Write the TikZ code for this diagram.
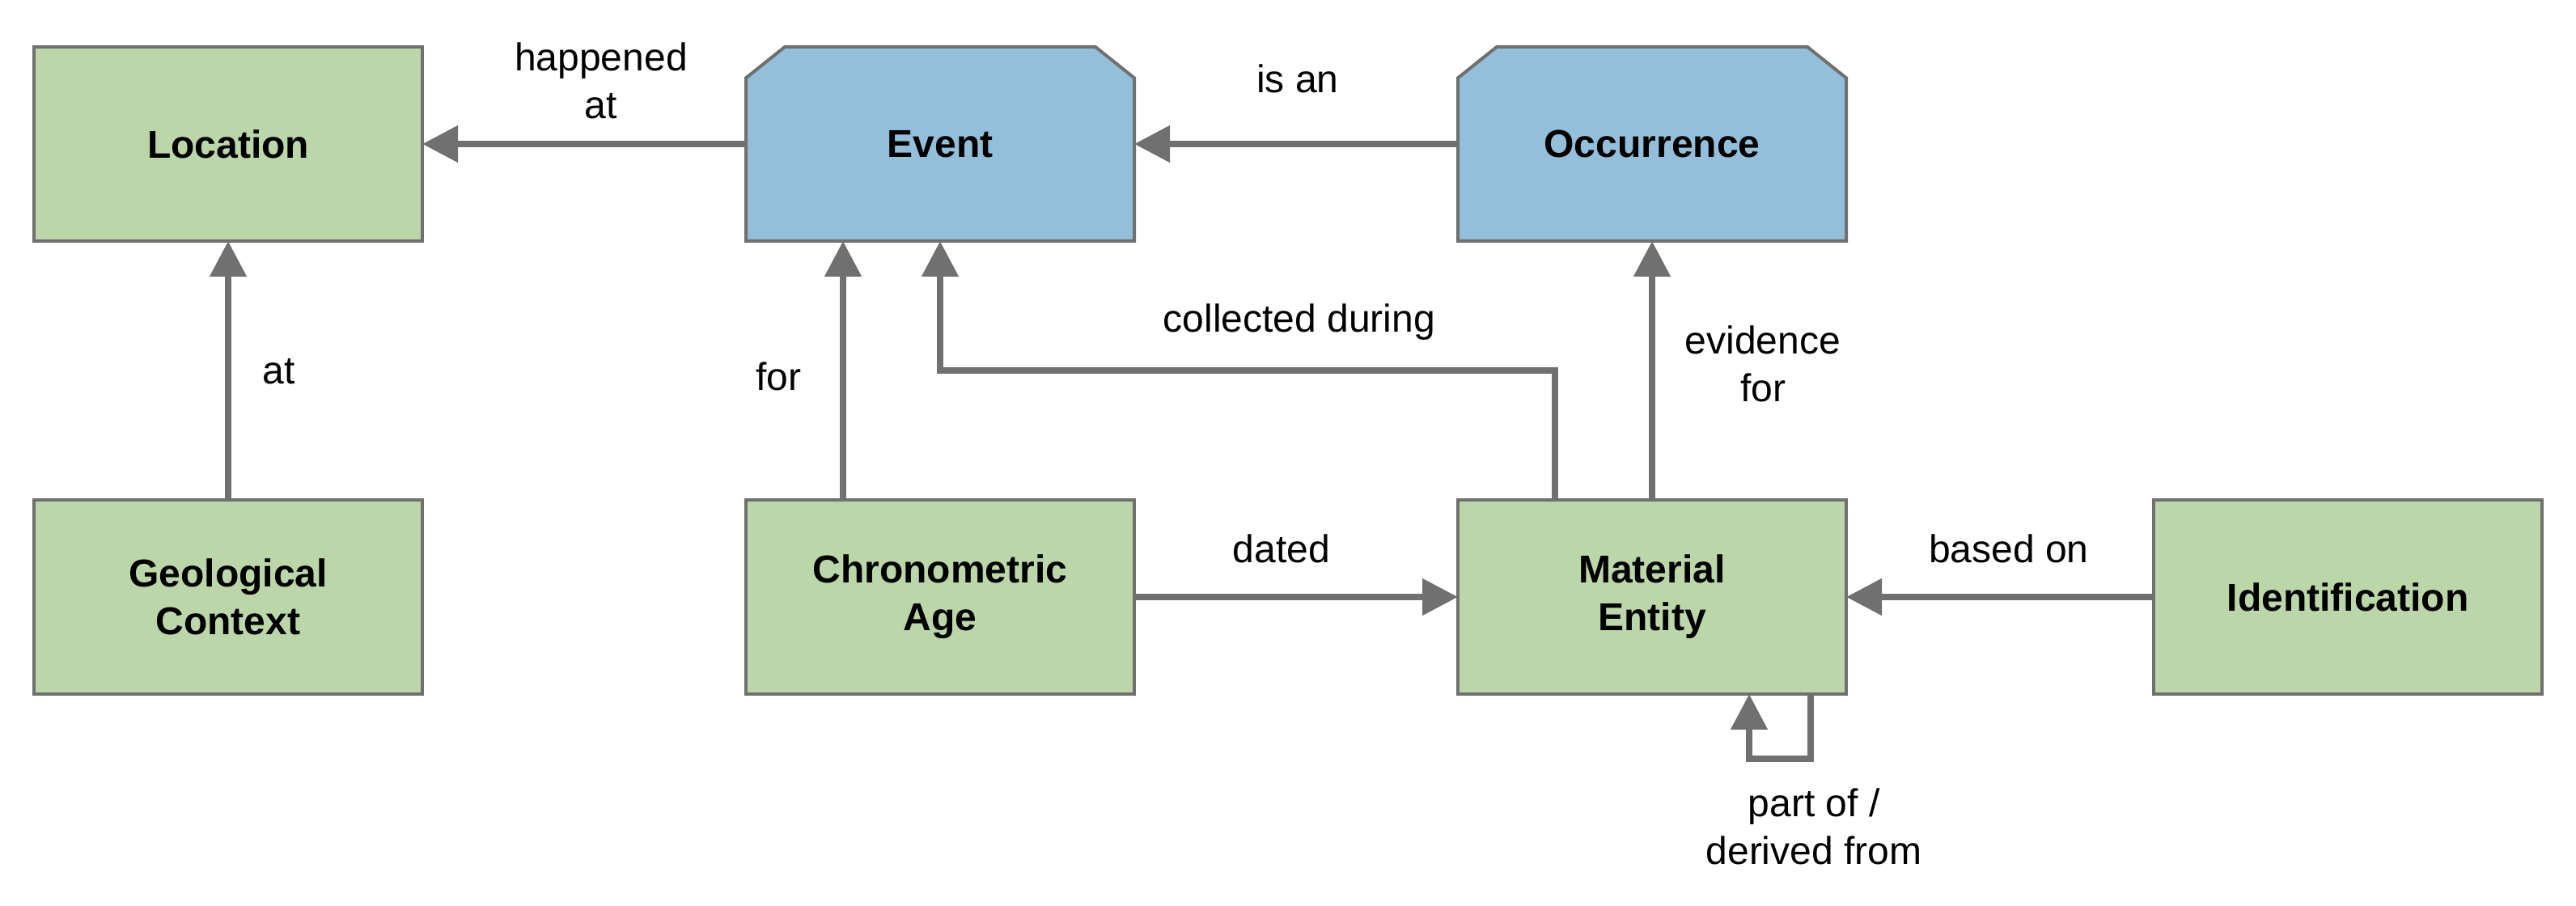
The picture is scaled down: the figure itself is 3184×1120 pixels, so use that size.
\documentclass[tikz,border=0pt]{standalone}
\usepackage{fontspec}
\setmainfont{Liberation Sans}
\usetikzlibrary{arrows.meta,calc}
\definecolor{boxgreen}{RGB}{187,215,170}
\definecolor{boxblue}{RGB}{148,191,218}
\definecolor{edgegray}{RGB}{112,112,112}
\tikzset{
  every node/.style={font=\fontsize{12}{14.75}\selectfont, align=center, outer sep=0pt},
  greenbox/.style={draw=edgegray, fill=boxgreen, line width=1pt, minimum width=120pt, minimum height=60pt, font=\fontsize{12}{14.75}\selectfont\bfseries, inner sep=0pt},
  bluebox/.style={minimum width=120pt, minimum height=60pt, font=\fontsize{12}{14.75}\selectfont\bfseries, inner sep=0pt},
  arr/.style={draw=edgegray, line width=2pt, -{Triangle[length=11pt,width=11pt]}},
  lbl/.style={inner sep=0pt, text=black},
}
\begin{document}
\begin{tikzpicture}[x=0.25pt, y=-0.25pt]
\useasboundingbox (0,0) rectangle (3184,1120);
% nodes
\node[greenbox] (loc) at (282,178) {Location};
\node[greenbox] (geo) at (282,738) {Geological\\Context};
\node[bluebox] (event) at (1162,178) {};
\node[greenbox] (chrono) at (1162,738) {Chronometric\\Age};
\node[bluebox] (occ) at (2042,178) {};
\node[greenbox] (me) at (2042,738) {Material\\Entity};
\node[greenbox] (ident) at (2902,738) {Identification};
% chamfered shapes
\foreach \n in {event,occ}{
  \filldraw[draw=edgegray, fill=boxblue, line width=1pt, line join=miter]
    (\n.south west) -- ($(\n.north west)+(0,38.4)$) -- ($(\n.north west)+(48,0)$)
    -- ($(\n.north east)+(-48,0)$) -- ($(\n.north east)+(0,38.4)$) -- (\n.south east) -- cycle;
}
\node[bluebox] at (event) {Event};
\node[bluebox] at (occ) {Occurrence};
% connectors
\draw[arr] (event.west) -- (loc.east);
\draw[arr] (occ.west) -- (event.east);
\draw[arr] (geo.north) -- (loc.south);
\coordinate (c1) at ($(chrono.north west)!0.25!(chrono.north east)$);
\draw[arr] (c1) -- (c1 |- event.south);
\coordinate (m1) at ($(me.north west)!0.25!(me.north east)$);
\draw[arr, line join=miter] (m1) |- ($(event.south)+(0,160)$) -- (event.south);
\draw[arr] (me.north) -- (occ.south);
\draw[arr] (chrono.east) -- (me.west);
\draw[arr] (ident.west) -- (me.east);
\draw[arr, line join=miter] ($(me.south west)+(436,0)$) -- ++(0,80) -| ($(me.south west)+(360,0)$);
% labels
\node[lbl] (l1) at (743,100) {happened\\at};
\node[lbl] (l2) at (1604,97) {is an};
\node[lbl] (l3) at (345,459) {at};
\node[lbl] (l4) at (962,465) {for};
\node[lbl] (l5) at (1606,398) {collected during};
\node[lbl] (l6) at (2179,450) {evidence\\for};
\node[lbl] (l7) at (1584,678) {dated};
\node[lbl] (l8) at (2483,678) {based on};
\node[lbl] (l9) at (2242,1022) {part of /\\derived from};
\end{tikzpicture}
\end{document}
